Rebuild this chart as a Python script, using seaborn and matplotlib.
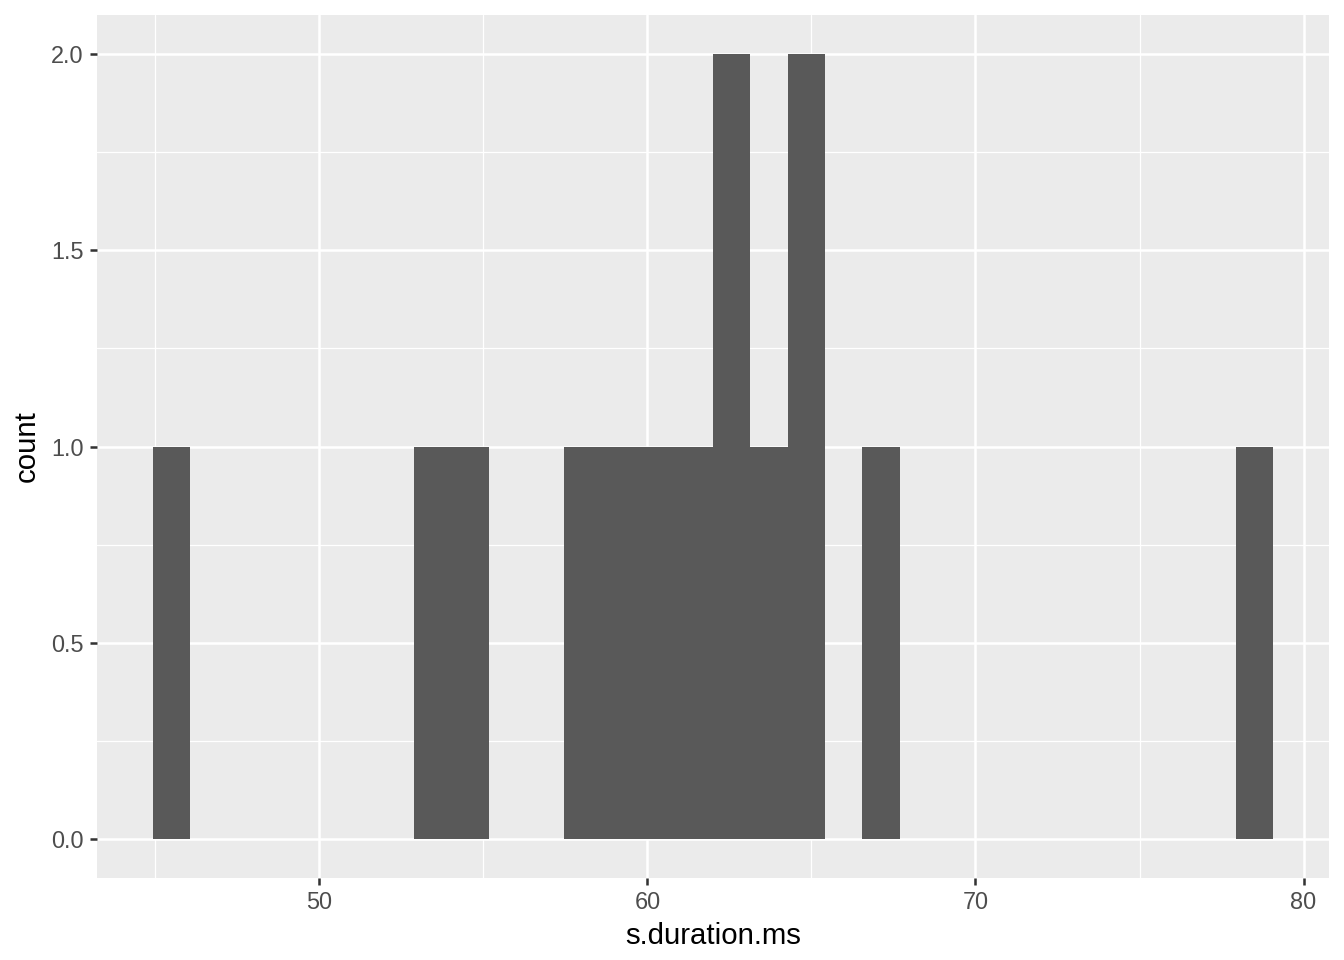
import matplotlib
matplotlib.use('Agg')
import matplotlib.pyplot as plt
import numpy as np
import seaborn as sns

durations = [45.5, 53.4, 54.7, 58.1, 59.0, 60.3, 61.5, 62.4, 62.7,
             63.8, 64.7, 65.0, 67.2, 78.5]
n_bins = 30
x_ticks = [50, 60, 70, 80]
x_minor = [45, 55, 65, 75]
y_ticks = [0.0, 0.5, 1.0, 1.5, 2.0]
y_minor = [0.25, 0.75, 1.25, 1.75]

sns.set_theme(style="darkgrid")
plt.rcParams['font.family'] = ['Liberation Sans', 'DejaVu Sans']

# ggplot-style bins: centred so the extremes sit in the middle of the end bins
lo, hi = min(durations), max(durations)
w = (hi - lo) / (n_bins - 1)
edges = lo - w / 2 + w * np.arange(n_bins + 1)

fig = plt.figure(figsize=(7, 5), dpi=192)
ax = fig.add_axes([97 / 1344, 1 - 878 / 960, (1329 - 97) / 1344, (878 - 15) / 960])
ax.set_facecolor('#EBEBEB')

sns.histplot(x=durations, bins=edges, color='#595959', alpha=1, linewidth=0,
             edgecolor='none', ax=ax, zorder=3)

span = edges[-1] - edges[0]
ax.set_xlim(edges[0] - 0.05 * span, edges[-1] + 0.05 * span)
ax.set_ylim(-0.1, 2.1)

ax.set_xticks(x_ticks)
ax.set_xticks(x_minor, minor=True)
ax.set_yticks(y_ticks)
ax.set_yticks(y_minor, minor=True)
ax.set_yticklabels([f"{v:.1f}" for v in y_ticks])

ax.grid(which='major', color='white', linewidth=0.95, zorder=1)
ax.grid(which='minor', color='white', linewidth=0.48, zorder=1)
ax.set_axisbelow(True)
for s in ax.spines.values():
    s.set_visible(False)

ax.tick_params(which='major', length=2.75, width=0.95, color='#333333',
               labelsize=8.8, labelcolor='#4D4D4D', pad=2.2,
               bottom=True, left=True)
ax.tick_params(which='minor', length=0, bottom=False, left=False)

ax.set_xlabel('s.duration.ms', fontsize=11, color='black', labelpad=3)
ax.set_ylabel('count', fontsize=11, color='black', labelpad=4)

fig.savefig('out.png', dpi=192, facecolor='white')
